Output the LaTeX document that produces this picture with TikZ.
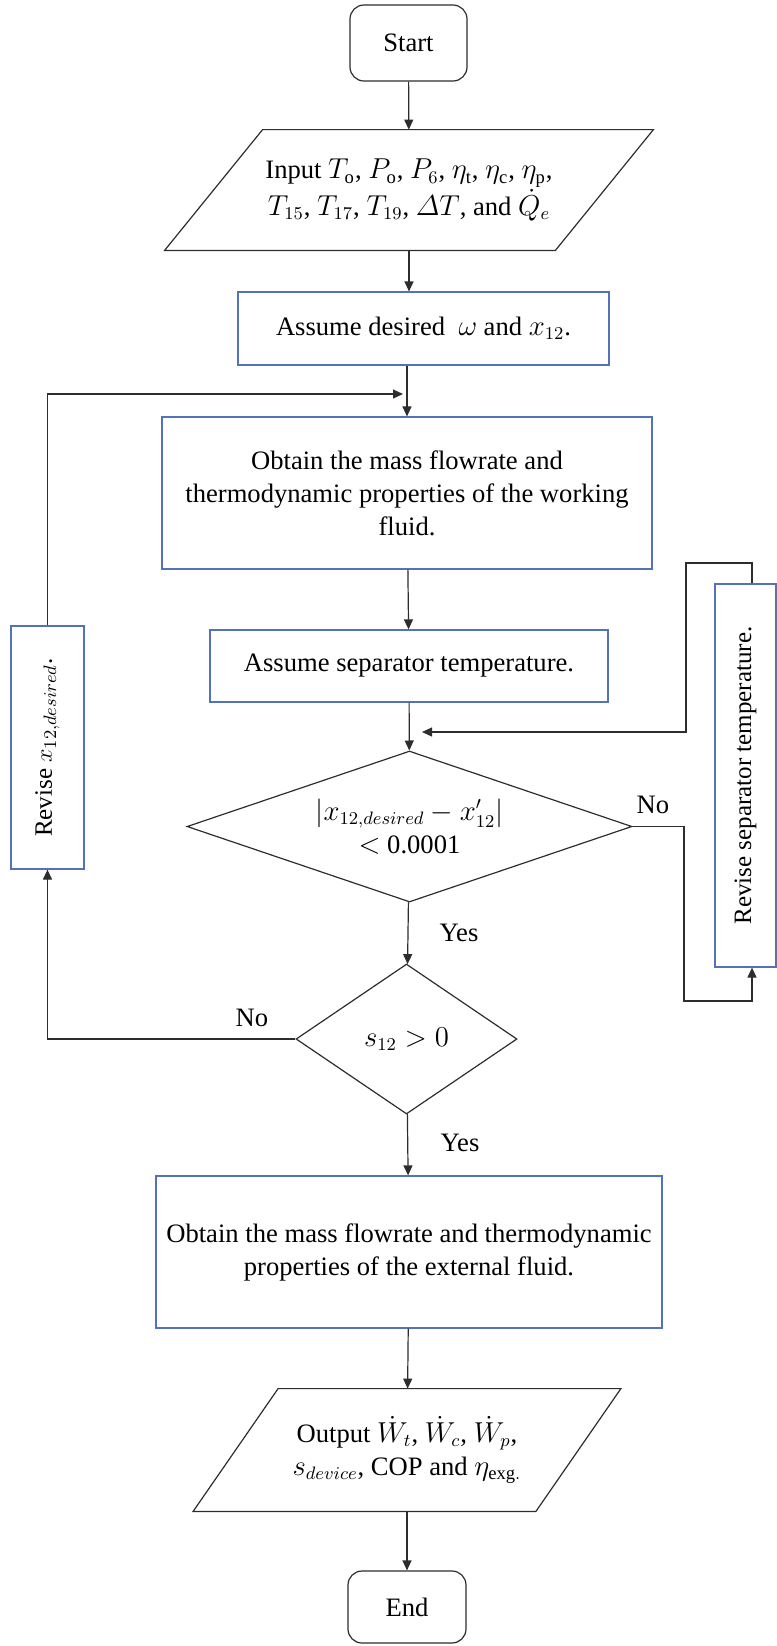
\documentclass[tikz,border=0pt]{standalone}
\usepackage{amsmath,amssymb}
\usepackage{graphicx}
\usepackage{fontspec}
\setmainfont{Liberation Serif}
\usetikzlibrary{arrows.meta, calc, shapes.geometric}
\definecolor{boxblue}{RGB}{82,114,186}
\definecolor{linegray}{RGB}{45,45,45}

\begin{document}
\begin{tikzpicture}[x=0.5pt,y=-0.5pt,>={Triangle[length=5pt,width=4.5pt]},
    font=\fontsize{13.3}{16.5}\selectfont,
    every node/.style={inner sep=0pt, align=center},
    wbox/.style={draw=boxblue, line width=0.6pt},
    term/.style={draw=linegray, line width=0.6pt, rounded corners=7pt},
    cond/.style={diamond, aspect=3, draw=linegray, line width=0.6pt},
    flow/.style={->, draw=linegray, line width=0.6pt}]
\useasboundingbox (0,0) rectangle (777,1646);

\node[term, minimum width=58.5pt, minimum height=38pt] (start) at (408.5,43) {Start};
\node[minimum width=195pt, minimum height=60pt] (in) at (409,190)
    {Input $T_\mathrm{o}$, $P_\mathrm{o}$, $P_6$, $\eta_\mathrm{t}$, $\eta_\mathrm{c}$, $\eta_\mathrm{p}$,\\
     $T_{15}$, $T_{17}$, $T_{19}$, $\varDelta T$, and $\dot{Q}_e$};
\draw[linegray, line width=0.6pt]($(in.north west)+(49,0)$)--($(in.north east)+(49,0)$)--($(in.south east)-(49,0)$)--($(in.south west)-(49,0)$)--cycle;
\node[wbox, minimum width=185.5pt, minimum height=36.5pt] (asm) at (423.5,328.5) {Assume desired\ \ $\omega$ and $x_{12}$.};
\node[wbox, minimum width=245pt, minimum height=76pt] (wf) at (407,493)
    {Obtain the mass flowrate and\\ thermodynamic properties of the working\\ fluid.};
\node[wbox, minimum width=199pt, minimum height=36pt] (sep) at (409,666) {Assume separator temperature.};
\node[cond, minimum width=222.5pt, minimum height=75.5pt] (d1) at (409.5,826.5)
    {$\left|x_{12,desired}-x'_{12}\right|$\\ $<$ 0.0001};
\node[cond, minimum width=110.5pt, minimum height=75pt] (d2) at (406.5,1039) {$s_{12}>0$};
\node[wbox, minimum width=253pt, minimum height=76pt] (ext) at (409,1252)
    {Obtain the mass flowrate and thermodynamic\\ properties of the external fluid.};
\node[minimum width=171pt, minimum height=61pt] (out) at (407,1450)
    {Output $\dot{W}_t$, $\dot{W}_c$, $\dot{W}_p$,\\ $s_{device}$, COP and $\eta_{\mathrm{exg.}}$};
\draw[linegray, line width=0.6pt]($(out.north west)+(42.5,0)$)--($(out.north east)+(42.5,0)$)--($(out.south east)-(42.5,0)$)--($(out.south west)-(42.5,0)$)--cycle;
\node[term, minimum width=59pt, minimum height=36pt] (end) at (407,1607) {End};

\node[wbox, minimum width=36.5pt, minimum height=121.5pt] (rx) at (47.5,747.5)
    {\rotatebox{90}{\fontsize{12.5}{14}\selectfont Revise $x_{12,desired}$.}};
\node[wbox, minimum width=30.5pt, minimum height=191.5pt] (rs) at (745.5,775.5)
    {\rotatebox{90}{\fontsize{12.5}{14}\selectfont Revise separator temperature.}};

\node (no1) at (653,805) {No};
\node (yes1) at (459,933) {Yes};
\node (no2) at (252,1018) {No};
\node (yes2) at (460,1143) {Yes};

\coordinate (tl) at (403,394);
\coordinate (tr) at (422,732);

\draw[flow](start)--(in);
\draw[flow](in)--(asm.north -| in.south);
\draw[flow](asm.south -| wf.north)--(wf);
\draw[flow](wf)--(sep);
\draw[flow](sep)--(d1);
\draw[flow](d1)--(d2);
\draw[flow](d2)--(ext);
\draw[flow](ext)--(out);
\draw[flow](out)--(end);
\draw[flow](rx.north)|-(tl);
\draw[flow]([xshift=3.25pt]rs.north)|-(686,563)|-(tr);
\draw[flow](d1.east)-|(684,1001)-|([xshift=3.25pt]rs.south);
\draw[flow](d2.west)-|(rx.south);
\end{tikzpicture}
\end{document}
